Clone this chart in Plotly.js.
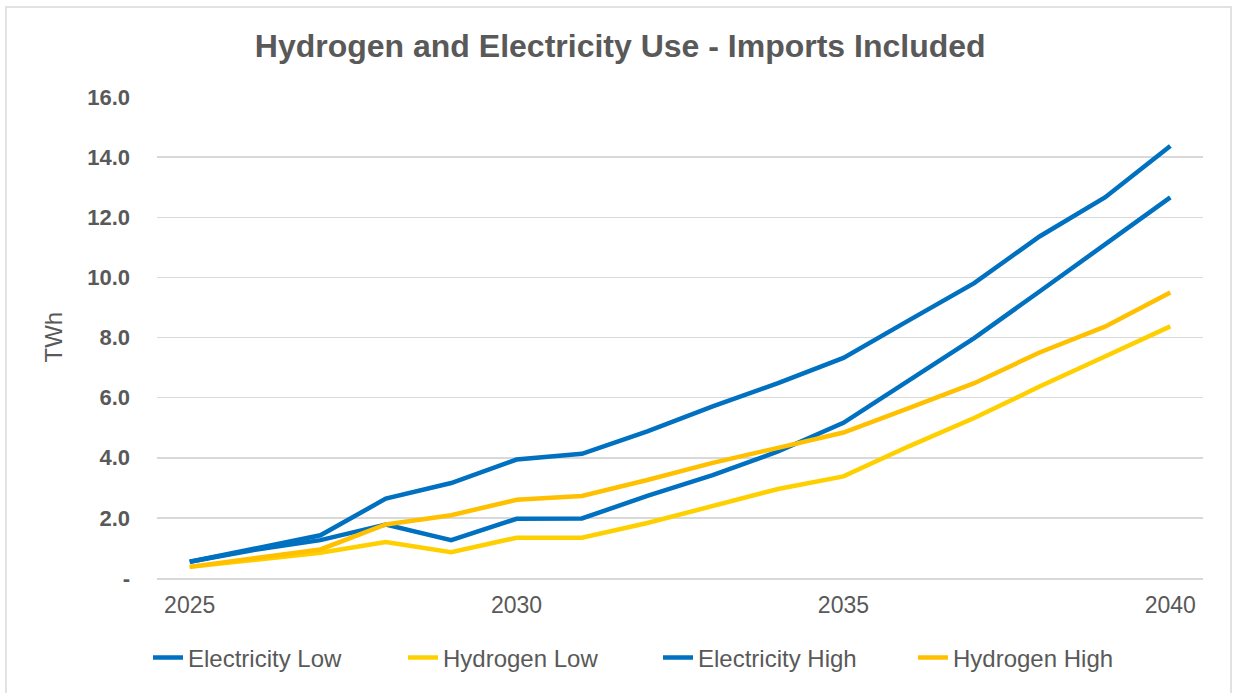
<!DOCTYPE html>
<html>
<head>
<meta charset="utf-8">
<script src="https://cdn.plot.ly/plotly-3.0.1.min.js"></script>
<style>html,body{margin:0;padding:0;background:#fff;}#chart{width:1233px;height:693px;}</style>
</head>
<body>
<div id="chart"></div>
<script>
const years = [2025,2026,2027,2028,2029,2030,2031,2032,2033,2034,2035,2036,2037,2038,2039,2040];
const electricityLow  = [0.54,0.94,1.26,1.78,1.26,1.97,1.98,2.73,3.42,4.21,5.16,6.56,7.98,9.53,11.08,12.66];
const hydrogenLow     = [0.37,0.62,0.84,1.20,0.86,1.34,1.34,1.83,2.38,2.96,3.38,4.38,5.32,6.37,7.37,8.37];
const electricityHigh = [0.54,0.98,1.42,2.64,3.16,3.94,4.13,4.88,5.71,6.48,7.32,8.57,9.81,11.36,12.66,14.37];
const hydrogenHigh    = [0.37,0.67,0.95,1.78,2.09,2.60,2.73,3.26,3.83,4.33,4.84,5.65,6.48,7.50,8.36,9.50];
const yTickVals = [0,2,4,6,8,10,12,14,16];
const yTickText = ['-','2.0','4.0','6.0','8.0','10.0','12.0','14.0','16.0'];
const xTickVals = [2025,2030,2035,2040];
const yAxisTitle = 'TWh';

const series = [
  {name:'Electricity Low', y:electricityLow, color:'#0070C0'},
  {name:'Hydrogen Low', y:hydrogenLow, color:'#FFD000'},
  {name:'Electricity High', y:electricityHigh, color:'#0070C0'},
  {name:'Hydrogen High', y:hydrogenHigh, color:'#FFC000'}
];
const traces = series.map(s => ({
  x: years, y: s.y, name: s.name, type:'scatter', mode:'lines',
  line:{color:s.color, width:4.5}
}));

const layout = {
  width:1233, height:693,
  margin:{l:157, r:30, t:97, b:115},
  paper_bgcolor:'#fff', plot_bgcolor:'#fff',
  font:{family:'Liberation Sans, Arial, sans-serif', color:'#595959'},
  title:{text:'<b>Hydrogen and Electricity Use - Imports Included</b>', xref:'container', x:0.503, xanchor:'center', yref:'container', y:0.934, yanchor:'middle', font:{size:32, color:'#595959'}},
  xaxis:{range:[2024.5,2040.5], tickvals:xTickVals, ticktext:xTickVals.map(String), showgrid:false, zeroline:false,
         showline:true, linecolor:'#d9d9d9', linewidth:1.5, ticks:'', tickfont:{size:23, color:'#595959'}, ticklabelstandoff:6, fixedrange:true},
  yaxis:{range:[0,16], tickvals:yTickVals, ticktext:yTickText, showgrid:true, gridcolor:'#d9d9d9', gridwidth:1.5, zeroline:false,
         ticks:'', tickfont:{size:22, color:'#595959', weight:'bold'}, ticklabelstandoff:26},
  annotations:[{text:yAxisTitle, xref:'paper', yref:'paper', x:-0.0994, y:0.5, xanchor:'center', yanchor:'middle', textangle:-90, showarrow:false, font:{size:24, color:'#595959'}}],
  showlegend:true,
  legend:{orientation:'h', x:-0.0086, xanchor:'left', y:-0.166, yanchor:'middle', font:{size:24, color:'#595959'}, entrywidth:210, itemwidth:30, traceorder:'normal'},
  shapes:[{type:'rect', xref:'paper', yref:'paper', x0:-0.1444, x1:1.0268, y0:-0.254, y1:1.187, line:{color:'#d9d9d9', width:1.5}}]
};
Plotly.newPlot('chart', traces, layout, {displayModeBar:false, staticPlot:true});
</script>
</body>
</html>
